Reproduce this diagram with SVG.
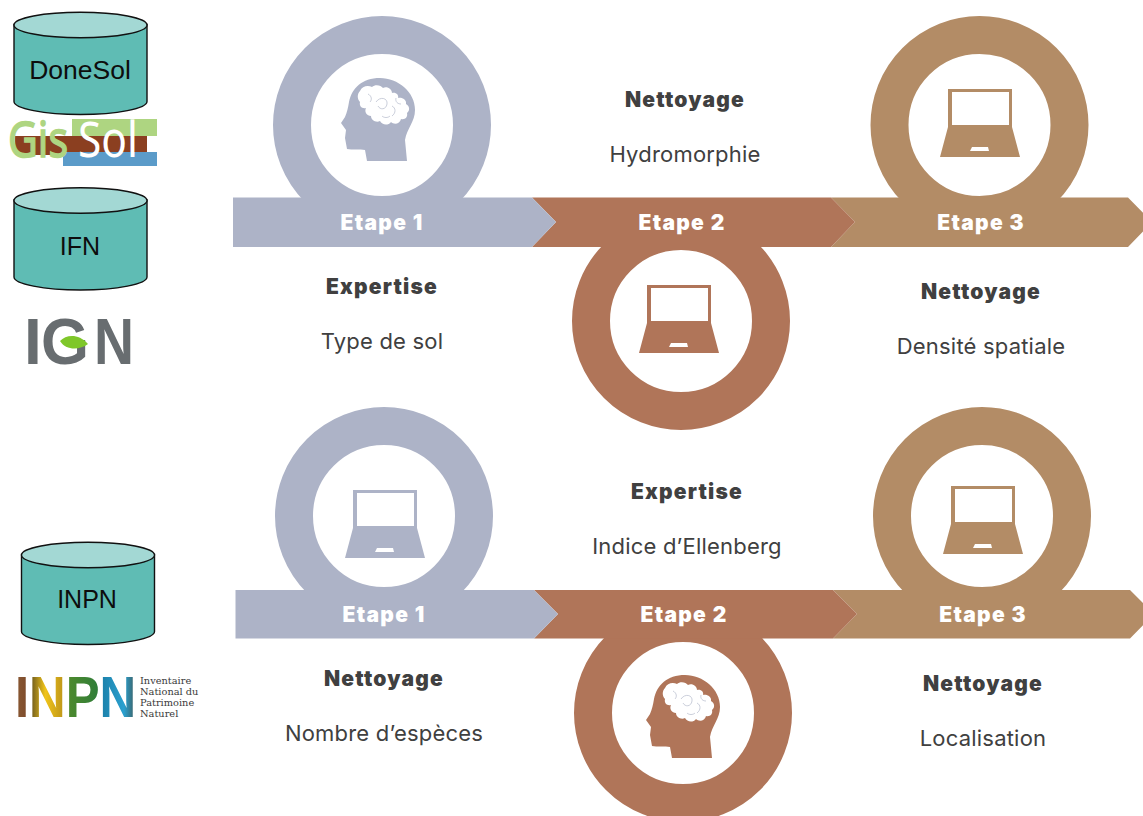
<svg xmlns="http://www.w3.org/2000/svg" width="1143" height="816" viewBox="0 0 1143 816">
<style>
.ring{fill:#fff;stroke-width:38}
.c1{stroke:#adb3c7}.c2{stroke:#b07559}.c3{stroke:#b38c66}
.f1{fill:#adb3c7}.f2{fill:#b07559}.f3{fill:#b38c66}
text{font-family:"Inter","Liberation Sans",sans-serif;text-anchor:middle}
.st{font-size:21px;font-weight:900;fill:#fff;letter-spacing:1.300px}
.h{font-size:21px;font-weight:900;fill:#404040;letter-spacing:1.200px}
.d{font-size:22px;font-weight:400;fill:#404040;letter-spacing:.2px}
.db{font-family:"Liberation Sans",sans-serif;font-size:25px;fill:#0d0d0d}
.cb{fill:#5fbcb4;stroke:#111;stroke-width:1.4}
.ct{fill:#a3d8d4;stroke:#111;stroke-width:1.4}
.gs{font-family:"Noto Sans",sans-serif;font-size:50px}
.ign{font-family:"Liberation Sans",sans-serif;font-size:64px;font-weight:700;fill:#686d70;text-anchor:start}
.inpn{font-family:"Liberation Sans",sans-serif;font-weight:700;font-size:57px;text-anchor:start}
.it{font-family:"DejaVu Serif",serif;font-size:9.800px;fill:#3a3a3a;text-anchor:start}
</style>
<defs>
<symbol id="cyl" overflow="visible" viewBox="0 0 133 103" width="133" height="103">
<path class="cb" d="M0 12V89C0 96 30 102 66.500 102S133 96 133 89V12Z"/>
<ellipse class="ct" cx="66.500" cy="12.500" rx="66.500" ry="12.800"/>
</symbol>
<path id="laptop" fill-rule="evenodd" d="M8-40H72V-2L80 28H0L8-2ZM12-37V-4H69V-37ZM32 18L30 22H49L48 18Z"/>
<g id="head">
<path d="M80 28C98 28 115 42 115 60C115 72 107 78 105 90L107 111H67L65 100C60 99 52 100 47 99L45 88L46 80L41 73L45 67C47 62 48 58 49 52C52 38 62 28 80 28Z"/>
<path fill="#fff" d="M60 41C62 36 68 35 72 37C75 34 81 35 83 38C87 36 92 39 92 43C96 42 99 45 98 48C102 47 107 50 106 54C110 56 110 61 107 63C108 67 105 70 101 69C100 74 94 75 91 72C88 76 82 75 80 71C76 73 71 70 71 66C67 66 64 62 66 58C62 59 59 56 60 52C57 49 57 44 60 41Z"/>
<path fill="none" stroke="#adb3c7" stroke-width="0.8" opacity="0.8" d="M76 52C80 46 88 48 87 54C86 60 80 60 78 56M92 56C96 58 96 63 92 66M68 44C72 46 72 50 70 52M96 48C95 52 98 54 101 54M82 66C84 68 88 68 90 66"/>
</g>
<linearGradient id="logo" gradientUnits="userSpaceOnUse" x1="0" y1="0" x2="136" y2="0">
<stop offset="0" stop-color="#8a5a34"/><stop offset=".11" stop-color="#7d4a2a"/>
<stop offset=".115" stop-color="#5a4a20"/><stop offset=".25" stop-color="#f0c419"/><stop offset=".42" stop-color="#b8901a"/>
<stop offset=".425" stop-color="#4f8a2c"/><stop offset=".7" stop-color="#2f7d3a"/>
<stop offset=".705" stop-color="#1b7fa8"/><stop offset=".9" stop-color="#2aa0cf"/><stop offset="1" stop-color="#3f5a5a"/>
</linearGradient>
</defs>

<g id="source-donesol">
<use href="#cyl" x="14" y="12.500"/>
<text class="db" x="80" y="79" style="font-size:26.500px">DoneSol</text>
<rect x="72" y="119" width="85" height="17" fill="#aed581"/>
<rect x="15" y="136" width="132" height="19" fill="#8b3f20"/>
<rect x="63" y="152" width="94" height="14" fill="#5b9bc9"/>
<text class="gs" x="38" y="157" fill="#aed581" stroke="#aed581" stroke-width="1.500" textLength="60" lengthAdjust="spacingAndGlyphs">Gis</text>
<text class="gs" x="108" y="157" fill="#fff" textLength="60" lengthAdjust="spacingAndGlyphs">Sol</text>
</g>
<g id="source-ifn">
<use href="#cyl" x="14" y="188"/>
<text class="db" x="80" y="255">IFN</text>
<text class="ign" x="24" y="364">I</text>
<text class="ign" x="41" y="364" textLength="48" lengthAdjust="spacingAndGlyphs">G</text>
<text class="ign" x="94" y="364" textLength="40" lengthAdjust="spacingAndGlyphs">N</text>
<path d="M60 341C66 335 78 333 88 344C80 350 66 351 60 341Z" fill="#7fc72a"/>
</g>
<g id="source-inpn">
<use href="#cyl" x="21.500" y="542.500"/>
<text class="db" x="87" y="608">INPN</text>
<text class="inpn" transform="translate(15 717) scale(.89 1)" fill="url(#logo)">INPN</text>
<text class="it" x="140" y="684">Inventaire</text>
<text class="it" x="140" y="695">National du</text>
<text class="it" x="140" y="706">Patrimoine</text>
<text class="it" x="140" y="717">Naturel</text>
</g>

<g id="r1-step1">
<circle class="ring c1" cx="382" cy="125" r="90"/>
<use href="#head" transform="translate(300 50)" class="f1"/>
</g>
<g id="r1-step2">
<circle class="ring c2" cx="681" cy="321" r="90"/>
<use href="#laptop" x="639" y="325" class="f2"/>
</g>
<g id="r1-step3">
<circle class="ring c3" cx="979.500" cy="125" r="90"/>
<use href="#laptop" x="940" y="129" class="f3"/>
</g>
<g id="r2-step1">
<circle class="ring c1" cx="384" cy="516" r="90"/>
<use href="#laptop" x="345" y="530" class="f1"/>
</g>
<g id="r2-step2">
<circle class="ring c2" cx="683" cy="713" r="90"/>
<use href="#head" transform="translate(605 647)" class="f2"/>
</g>
<g id="r2-step3">
<circle class="ring c3" cx="982" cy="516" r="90"/>
<use href="#laptop" x="943" y="526" class="f3"/>
</g>

<g id="connectors">
<path class="f3" d="M831 197.500H1128L1152 222L1128 247H831L855 222Z"/>
<path class="f2" d="M532 197.500H831L855 222L831 247H532L556 222Z"/>
<path class="f1" d="M233 197.500H532L556 222L532 247H233Z"/>
<path class="f3" d="M833 590H1130L1154 614L1130 638.500H833L857 614Z"/>
<path class="f2" d="M534 590H833L857 614L833 638.500H534L558 614Z"/>
<path class="f1" d="M235.500 590H534L558 614L534 638.500H235.500Z"/>
</g>

<g id="labels">
<text class="st" x="382" y="230">Etape 1</text>
<text class="st" x="682" y="230">Etape 2</text>
<text class="st" x="981" y="230">Etape 3</text>
<text class="st" x="384" y="622">Etape 1</text>
<text class="st" x="684" y="622">Etape 2</text>
<text class="st" x="983" y="622">Etape 3</text>
<text class="h" x="685" y="107">Nettoyage</text>
<text class="d" x="685" y="162">Hydromorphie</text>
<text class="h" x="382" y="294">Expertise</text>
<text class="d" x="382" y="349">Type de sol</text>
<text class="h" x="981" y="299">Nettoyage</text>
<text class="d" x="981" y="354">Densité spatiale</text>
<text class="h" x="687" y="499">Expertise</text>
<text class="d" x="687" y="554">Indice d’Ellenberg</text>
<text class="h" x="384" y="686">Nettoyage</text>
<text class="d" x="384" y="741">Nombre d’espèces</text>
<text class="h" x="983" y="691">Nettoyage</text>
<text class="d" x="983" y="746">Localisation</text>
</g>
</svg>
